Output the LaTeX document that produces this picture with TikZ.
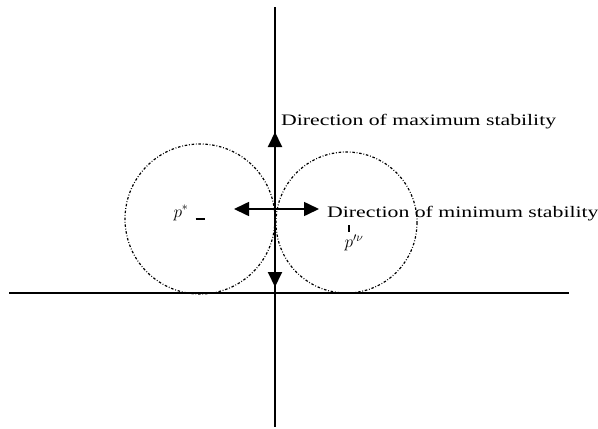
\documentclass[tikz,border=0pt]{standalone}
\usepackage{fontspec}
\setmainfont{Liberation Serif}
\usetikzlibrary{arrows.meta}
\tikzset{
  axis/.style={line width=1.4pt},
  dirarrow/.style={line width=2pt,-{Triangle[length=15pt,width=14pt]}},
  orbit/.style={line width=1.2pt,dash pattern=on 2.5pt off 1.8pt on 0.8pt off 1.8pt},
  lbl/.style={inner sep=0pt,anchor=base west,font=\fontsize{16}{18}\selectfont},
  sym/.style={inner sep=0pt,font=\fontsize{17}{19}\selectfont}
}
\begin{document}
\begin{tikzpicture}[x=1pt,y=-1pt]
\useasboundingbox (0,0) rectangle (598,429);
\fill[white] (0,0) rectangle (598,429);
% axes
\coordinate (vtop) at (275,7);
\coordinate (vbot) at (275,427);
\coordinate (hl) at (9,293);
\coordinate (hr) at (569,293);
\draw[axis] (vtop) -- (vbot);
\draw[axis] (hl) -- (hr);
% circles
\coordinate (cl) at (200,219);
\coordinate (cr) at (346.5,222.5);
\draw[orbit] (cl) circle[radius=75];
\draw[orbit] (cr) circle[radius=70.5];
% direction arrows
\coordinate (o) at (275,209);
\coordinate (up) at (275,132);
\coordinate (down) at (275,287);
\coordinate (left) at (234,209);
\coordinate (right) at (319,209);
\draw[dirarrow] (o) -- (up);
\draw[dirarrow] (o) -- (down);
\draw[dirarrow,line width=1.6pt] (o) -- (left);
\draw[dirarrow,line width=1.6pt] (o) -- (right);
% labels
\node[lbl] (maxlab) at (281,125) {\scalebox{1.36}[1]{Direction of maximum stability}};
\node[lbl] (minlab) at (327,217) {\scalebox{1.36}[1]{Direction of minimum stability}};
\node[sym] (pl) at (181,213) {$p^{\ast}$};
\node[sym] (pldash) at (200,219) {\rule{9pt}{1.2pt}};
\node[sym] (pr) at (354,243) {$p^{\prime\nu}$};
\node[sym] (prtick) at (349,228) {\rule{1.2pt}{7pt}};
\end{tikzpicture}
\end{document}
